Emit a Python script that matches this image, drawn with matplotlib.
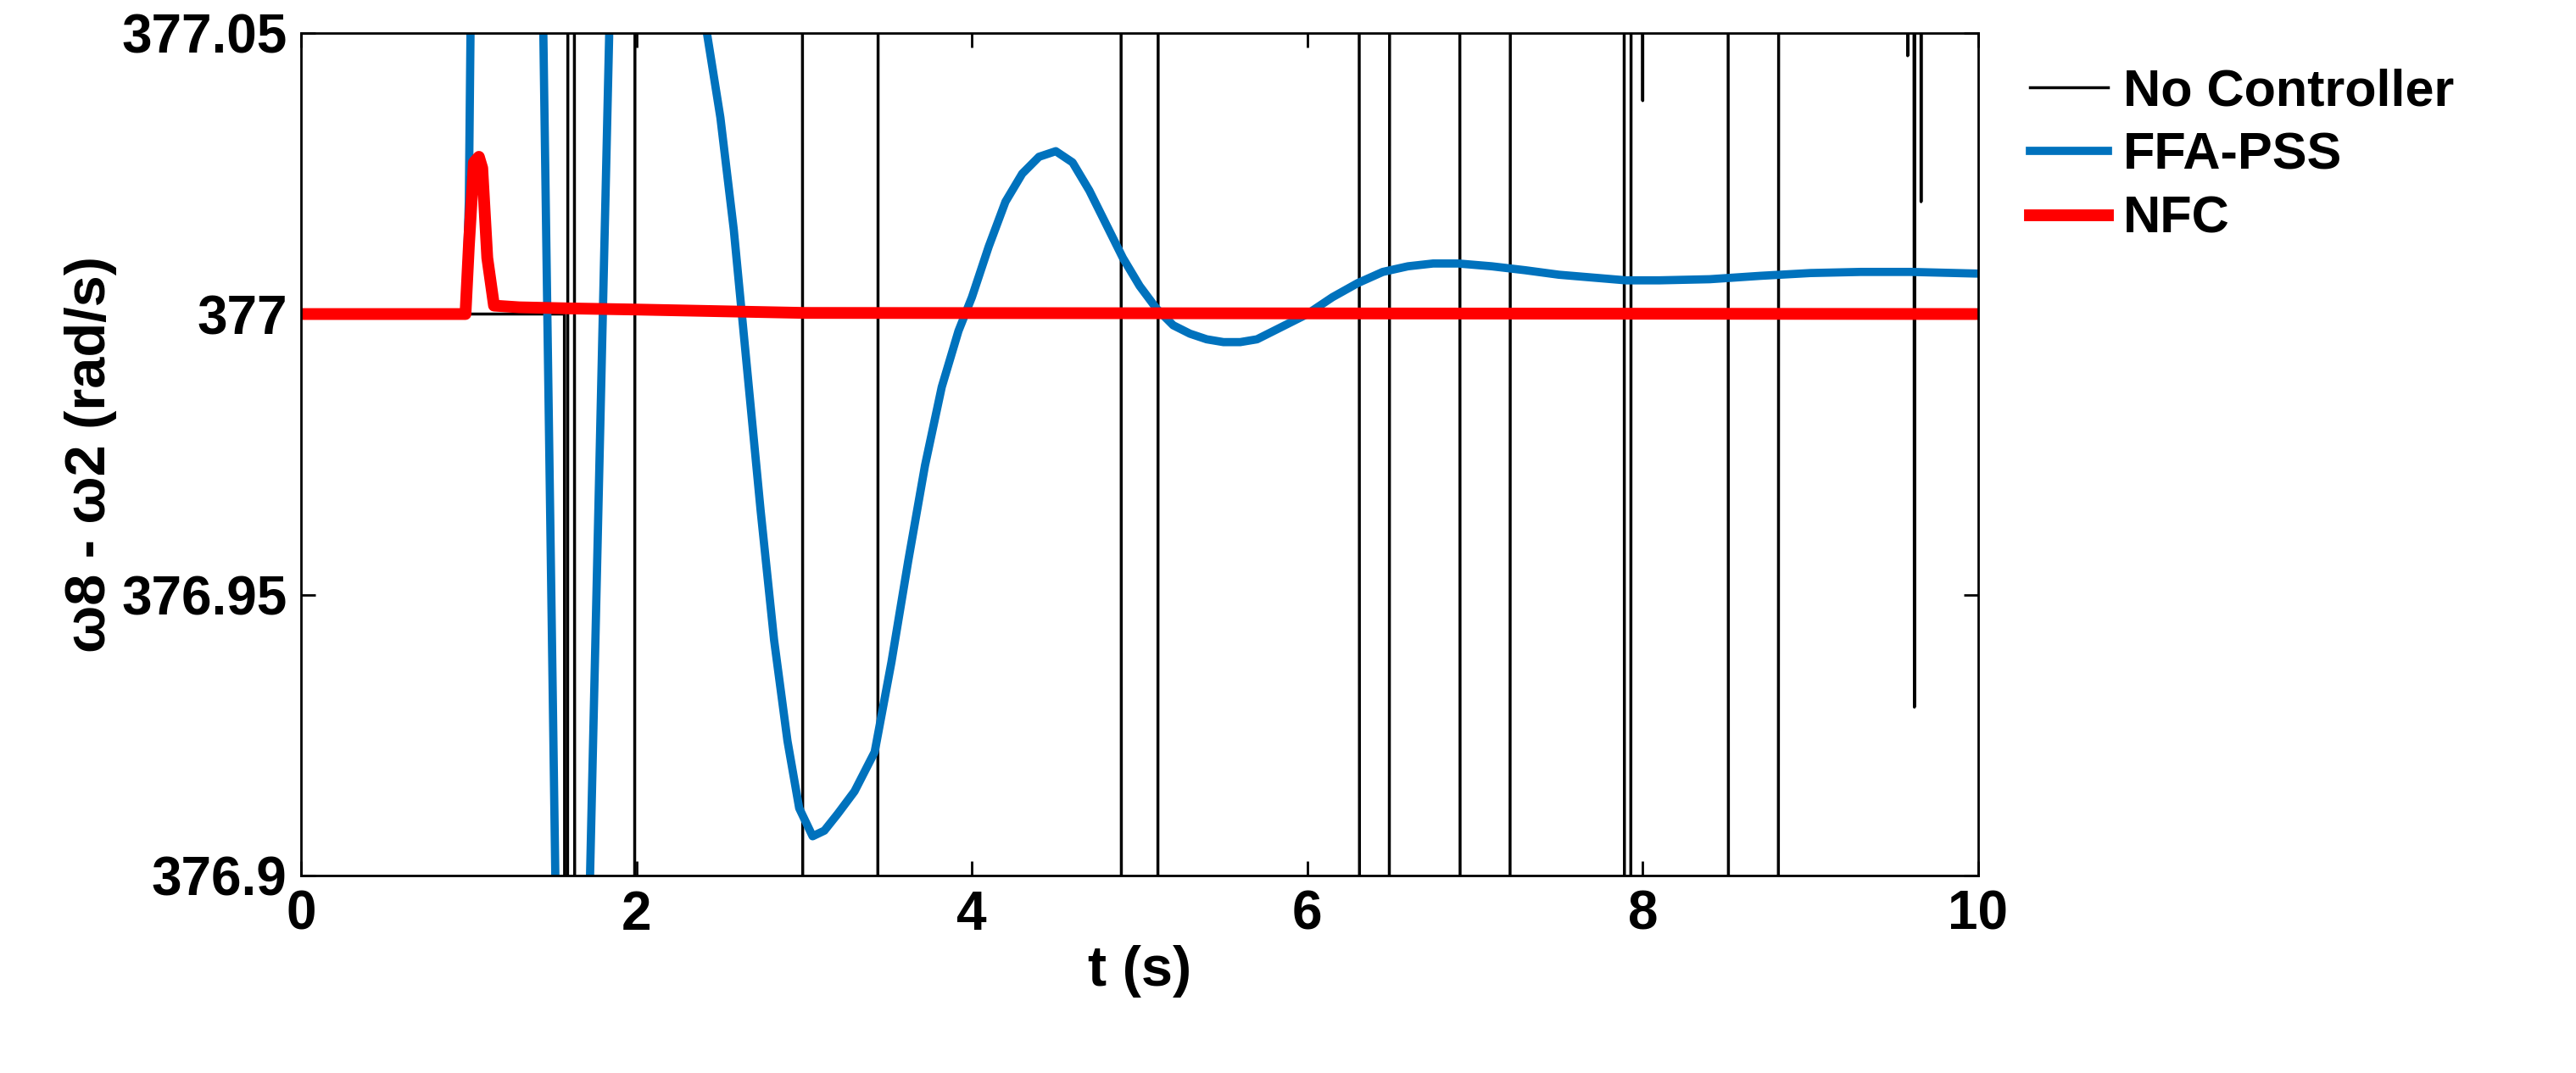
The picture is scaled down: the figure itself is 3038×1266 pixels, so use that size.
import numpy as np
import matplotlib.pyplot as plt

plt.rcParams['font.family'] = ['Liberation Sans', 'DejaVu Sans']
plt.rcParams['font.weight'] = 'bold'

# No Controller: large oscillation, mostly off-scale; crossings drawn as near-vertical lines
nc_t = [0, 1.57, 1.58, 1.60, 1.62, 1.64, 1.98, 2.00, 2.98, 3.00, 3.43, 3.45,
        4.88, 4.90, 5.10, 5.12, 6.30, 6.32, 6.48, 6.50, 6.90, 6.92, 7.20, 7.22,
        7.88, 7.90, 7.92, 7.94, 7.98, 8.00, 8.02, 8.50, 8.52, 8.80, 8.82,
        9.56, 9.58, 9.60, 9.62, 9.64, 9.66, 9.68, 10.0]
nc_y = [377, 377, 376.0, 378.0, 378.0, 376.0, 376.0, 378.0, 378.0, 376.0, 376.0, 378.0,
        378.0, 376.0, 376.0, 378.0, 378.0, 376.0, 376.0, 378.0, 378.0, 376.0, 376.0, 378.0,
        378.0, 376.0, 376.0, 378.0, 378.0, 377.038, 378.0, 378.0, 376.0, 376.0, 378.0,
        378.0, 377.046, 378.0, 376.93, 378.0, 377.02, 378.0, 378.0]

# FFA-PSS
ffa_t = [0, 0.98, 1.00, 1.02, 1.43, 1.53, 1.70, 1.86, 2.42, 2.50, 2.58, 2.66, 2.74,
         2.82, 2.90, 2.97, 3.05, 3.12, 3.20, 3.30, 3.42, 3.52, 3.62, 3.72, 3.82, 3.92,
         4.00, 4.10, 4.20, 4.30, 4.40, 4.50, 4.60, 4.70, 4.80, 4.90, 5.00, 5.10, 5.20,
         5.30, 5.40, 5.50, 5.60, 5.70, 5.80, 5.90, 6.00, 6.15, 6.30, 6.45, 6.60, 6.75,
         6.90, 7.10, 7.30, 7.50, 7.70, 7.90, 8.10, 8.40, 8.70, 9.00, 9.30, 9.60, 10.0]
ffa_y = [377, 377, 377.02, 377.08, 377.08, 376.87, 376.87, 377.08, 377.05, 377.035,
         377.015, 376.99, 376.965, 376.942, 376.924, 376.912, 376.907, 376.908, 376.911,
         376.915, 376.922, 376.938, 376.956, 376.973, 376.987, 376.997, 377.003, 377.012,
         377.02, 377.025, 377.028, 377.029, 377.027, 377.022, 377.016, 377.01, 377.005,
         377.001, 376.998, 376.9965, 376.9955, 376.995, 376.995, 376.9955, 376.997,
         376.9985, 377.0, 377.003, 377.0055, 377.0075, 377.0085, 377.009, 377.009,
         377.0085, 377.0078, 377.007, 377.0065, 377.006, 377.006, 377.0062, 377.0068,
         377.0073, 377.0075, 377.0075, 377.0072]

# NFC
nfc_t = [0, 0.98, 1.00, 1.03, 1.06, 1.08, 1.11, 1.15, 1.3, 1.6, 2.0, 2.5, 3.0, 10.0]
nfc_y = [377, 377, 377.012, 377.027, 377.028, 377.026, 377.01, 377.0015, 377.0012,
         377.001, 377.0008, 377.0005, 377.0002, 377.0]

fig = plt.figure(figsize=(30.38, 12.66), dpi=100)
ax = fig.add_axes([0.1169, 0.184, 0.651, 0.785])

ax.plot(nc_t, nc_y, color='black', linewidth=2.5, label='No Controller')
ax.plot(ffa_t, ffa_y, color='#0072BD', linewidth=7, label='FFA-PSS')
ax.plot(nfc_t, nfc_y, color='red', linewidth=10, label='NFC')

ax.set_xlim(0, 10)
ax.set_ylim(376.9, 377.05)
ax.set_xticks([0, 2, 4, 6, 8, 10])
ax.set_yticks([376.9, 376.95, 377, 377.05])
ax.set_yticklabels(['376.9', '376.95', '377', '377.05'])
ax.tick_params(direction='in', length=12, width=2, labelsize=46, pad=12,
               top=True, right=True)
for s in ax.spines.values():
    s.set_linewidth(2)
ax.set_xlabel('t (s)', fontsize=48, fontweight='bold')
ax.set_ylabel('ω8 - ω2 (rad/s)', fontsize=48, fontweight='bold')

fig.legend(loc='upper left', bbox_to_anchor=(0.77, 0.98), frameon=False,
           fontsize=44, handlelength=1.5, handletextpad=0.3, labelspacing=0.3)

fig.savefig('out.png', dpi=100)
